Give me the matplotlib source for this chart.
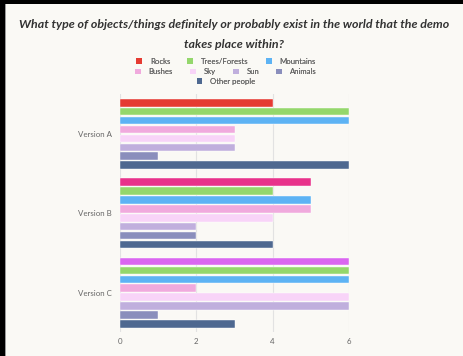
import matplotlib
matplotlib.use("Agg")
import matplotlib.pyplot as plt
from matplotlib.patches import Rectangle, Patch
import numpy as np

plt.rcParams['font.family'] = ['Lato', 'DejaVu Sans']

versions = ["Version A", "Version B", "Version C"]
series = ["Rocks", "Trees/Forests", "Mountains", "Bushes", "Sky", "Sun",
          "Animals", "Other people"]
values = {
    "Rocks":         [4, 5, 6],
    "Trees/Forests": [6, 4, 6],
    "Mountains":     [6, 5, 6],
    "Bushes":        [3, 5, 2],
    "Sky":           [3, 4, 6],
    "Sun":           [3, 2, 6],
    "Animals":       [1, 2, 1],
    "Other people":  [6, 4, 3],
}
colors = {
    "Rocks":         "#e53b32",
    "Trees/Forests": "#94d76c",
    "Mountains":     "#5db3f4",
    "Bushes":        "#f0aadd",
    "Sky":           "#f8d4f8",
    "Sun":           "#c0afdd",
    "Animals":       "#8a8ebc",
    "Other people":  "#4e6890",
}
# the first series is coloured point by point
rocks_point_colors = ["#e53b32", "#e8328a", "#da66f0"]
xticks = [0, 2, 4, 6]

W, H = 463, 356
fig = plt.figure(figsize=(W / 100, H / 100), dpi=100, facecolor="#000000")
fig.patches.append(Rectangle((6 / W, 0), 1, 1 - 4 / H, transform=fig.transFigure,
                             facecolor="#faf9f5", edgecolor="none", zorder=-10))
fig.patches.append(Rectangle((5 / W, 0), 1 / W, 1 - 4 / H, transform=fig.transFigure,
                             facecolor="#9a9a9a", edgecolor="none", zorder=-9))

ax = fig.add_axes([120 / W, (H - 332.3) / H, 229 / W, 238 / H])
ax.set_facecolor("none")

n = len(series)
pitch = 0.1122
height = 0.095
y = np.arange(len(versions))
for i, name in enumerate(series):
    off = (i - (n - 1) / 2) * pitch
    c = rocks_point_colors if name == "Rocks" else colors[name]
    ax.barh(y + off, values[name], height=height, color=c,
            edgecolor="white", linewidth=0.3, zorder=3)

ax.set_xlim(0, 6)
ax.set_ylim(len(versions) - 0.5, -0.5)
ax.set_yticks(y)
ax.set_yticklabels(versions)
ax.set_xticks(xticks)
ax.set_xticklabels([str(t) for t in xticks])
ax.tick_params(axis="both", length=0, labelsize=5.7, labelcolor="#666666")
ax.tick_params(axis="y", pad=6)
ax.tick_params(axis="x", pad=4)
ax.grid(axis="x", color="#e2e2e2", linewidth=0.8, zorder=0)
for s in ax.spines.values():
    s.set_visible(False)

title_kw = dict(ha="center", va="center", fontsize=8.9, fontweight="bold",
                style="italic", color="#333333")
fig.text(0.505, 1 - 25 / H,
         "What type of objects/things definitely or probably exist in the world that the demo",
         **title_kw)
fig.text(0.505, 1 - 45 / H, "takes place within?", **title_kw)

handles = {name: Patch(facecolor=colors[name], edgecolor="none") for name in series}
rows = [["Rocks", "Trees/Forests", "Mountains"],
        ["Bushes", "Sky", "Sun", "Animals"],
        ["Other people"]]
row_y = [61.5, 71.7, 81.3]
for names, yy in zip(rows, row_y):
    leg = fig.legend([handles[k] for k in names], names, loc="center",
                     bbox_to_anchor=(0.488, 1 - yy / H), ncol=len(names),
                     frameon=False, fontsize=5.6, handlelength=0.75, handleheight=0.75,
                     handletextpad=1.0, columnspacing=2.2, borderpad=0,
                     labelcolor="#666666")
    fig.add_artist(leg)

fig.savefig("out.png", dpi=100, facecolor=fig.get_facecolor())
